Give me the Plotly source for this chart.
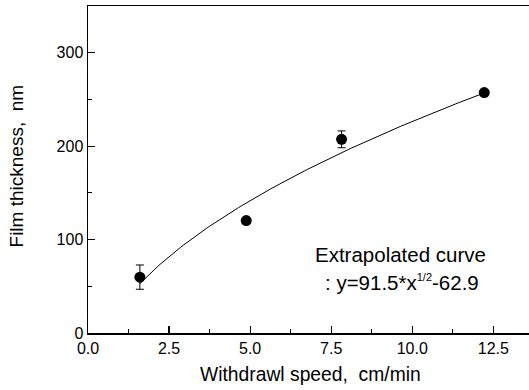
import numpy as np
import plotly.graph_objects as go

# Data
speed = [1.6, 4.88, 7.82, 12.22]          # cm/min
thickness = [59.8, 120.3, 207.3, 257.3]   # nm
thickness_err = [13, 0, 9, 0]

# Fit coefficients shown on the chart: y = a*x^(1/2) + b
fit_a = 91.5
fit_b = -62.9
fit_x = np.linspace(speed[0], speed[-1], 120)
fit_y = fit_a * np.sqrt(fit_x) + fit_b

x_ticks = [0.0, 2.5, 5.0, 7.5, 10.0, 12.5]
y_ticks = [0, 100, 200, 300]

FONT = "Liberation Sans, Arial, sans-serif"

fig = go.Figure()
fig.add_trace(go.Scatter(x=fit_x, y=fit_y, mode="lines",
                         line=dict(color="black", width=1), showlegend=False))
fig.add_trace(go.Scatter(x=speed, y=thickness, mode="markers",
                         marker=dict(color="black", size=11),
                         error_y=dict(type="data", array=thickness_err, visible=True,
                                      color="black", thickness=1, width=4),
                         showlegend=False))

fig.add_annotation(x=6.95, y=83.6, xref="x", yref="y", text="Extrapolated curve",
                   showarrow=False, xanchor="left", yanchor="middle",
                   font=dict(family=FONT, size=20.5, color="black"))
fig.add_annotation(x=7.26, y=53.6, xref="x", yref="y",
                   text=': y=91.5*x<sup><span style="font-size:11px">1/2</span></sup>-62.9',
                   showarrow=False, xanchor="left", yanchor="middle",
                   font=dict(family=FONT, size=20.5, color="black"))

# Axis titles
fig.add_annotation(x=0.505, y=-0.128, xref="paper", yref="paper",
                   text="Withdrawl speed,\u00a0 cm/min", showarrow=False,
                   xanchor="center", yanchor="middle",
                   font=dict(family=FONT, size=19.3, color="black"))
fig.add_annotation(x=-0.162, y=0.511, xref="paper", yref="paper",
                   text="Film thickness,\u00a0 nm", showarrow=False, textangle=-90,
                   xanchor="center", yanchor="middle",
                   font=dict(family=FONT, size=19, color="black"))

axis_common = dict(showgrid=False, zeroline=False, showline=True, linecolor="black",
                   linewidth=1.5, ticks="inside", ticklen=7, tickwidth=1.2,
                   tickcolor="black", automargin=False,
                   tickfont=dict(family=FONT, size=16, color="black"))

fig.update_xaxes(range=[0, 13.6], tickvals=x_ticks, tickformat=".1f", mirror=True,
                 minor=dict(dtick=1.25, tick0=0, ticks="inside", ticklen=4,
                            tickcolor="black", tickwidth=1.2),
                 **axis_common)
fig.update_yaxes(range=[0, 350], tickvals=y_ticks,
                 minor=dict(dtick=50, tick0=0, ticks="inside", ticklen=4,
                            tickcolor="black", tickwidth=1.2),
                 **axis_common)

fig.update_layout(width=529, height=390, margin=dict(l=88, r=0, t=6, b=57),
                  plot_bgcolor="white", paper_bgcolor="white",
                  font=dict(family=FONT, color="black"))

fig.write_html("out.html", config={"displayModeBar": False, "staticPlot": True},
               post_script="document.body.style.margin='0';document.body.style.overflow='hidden';")
